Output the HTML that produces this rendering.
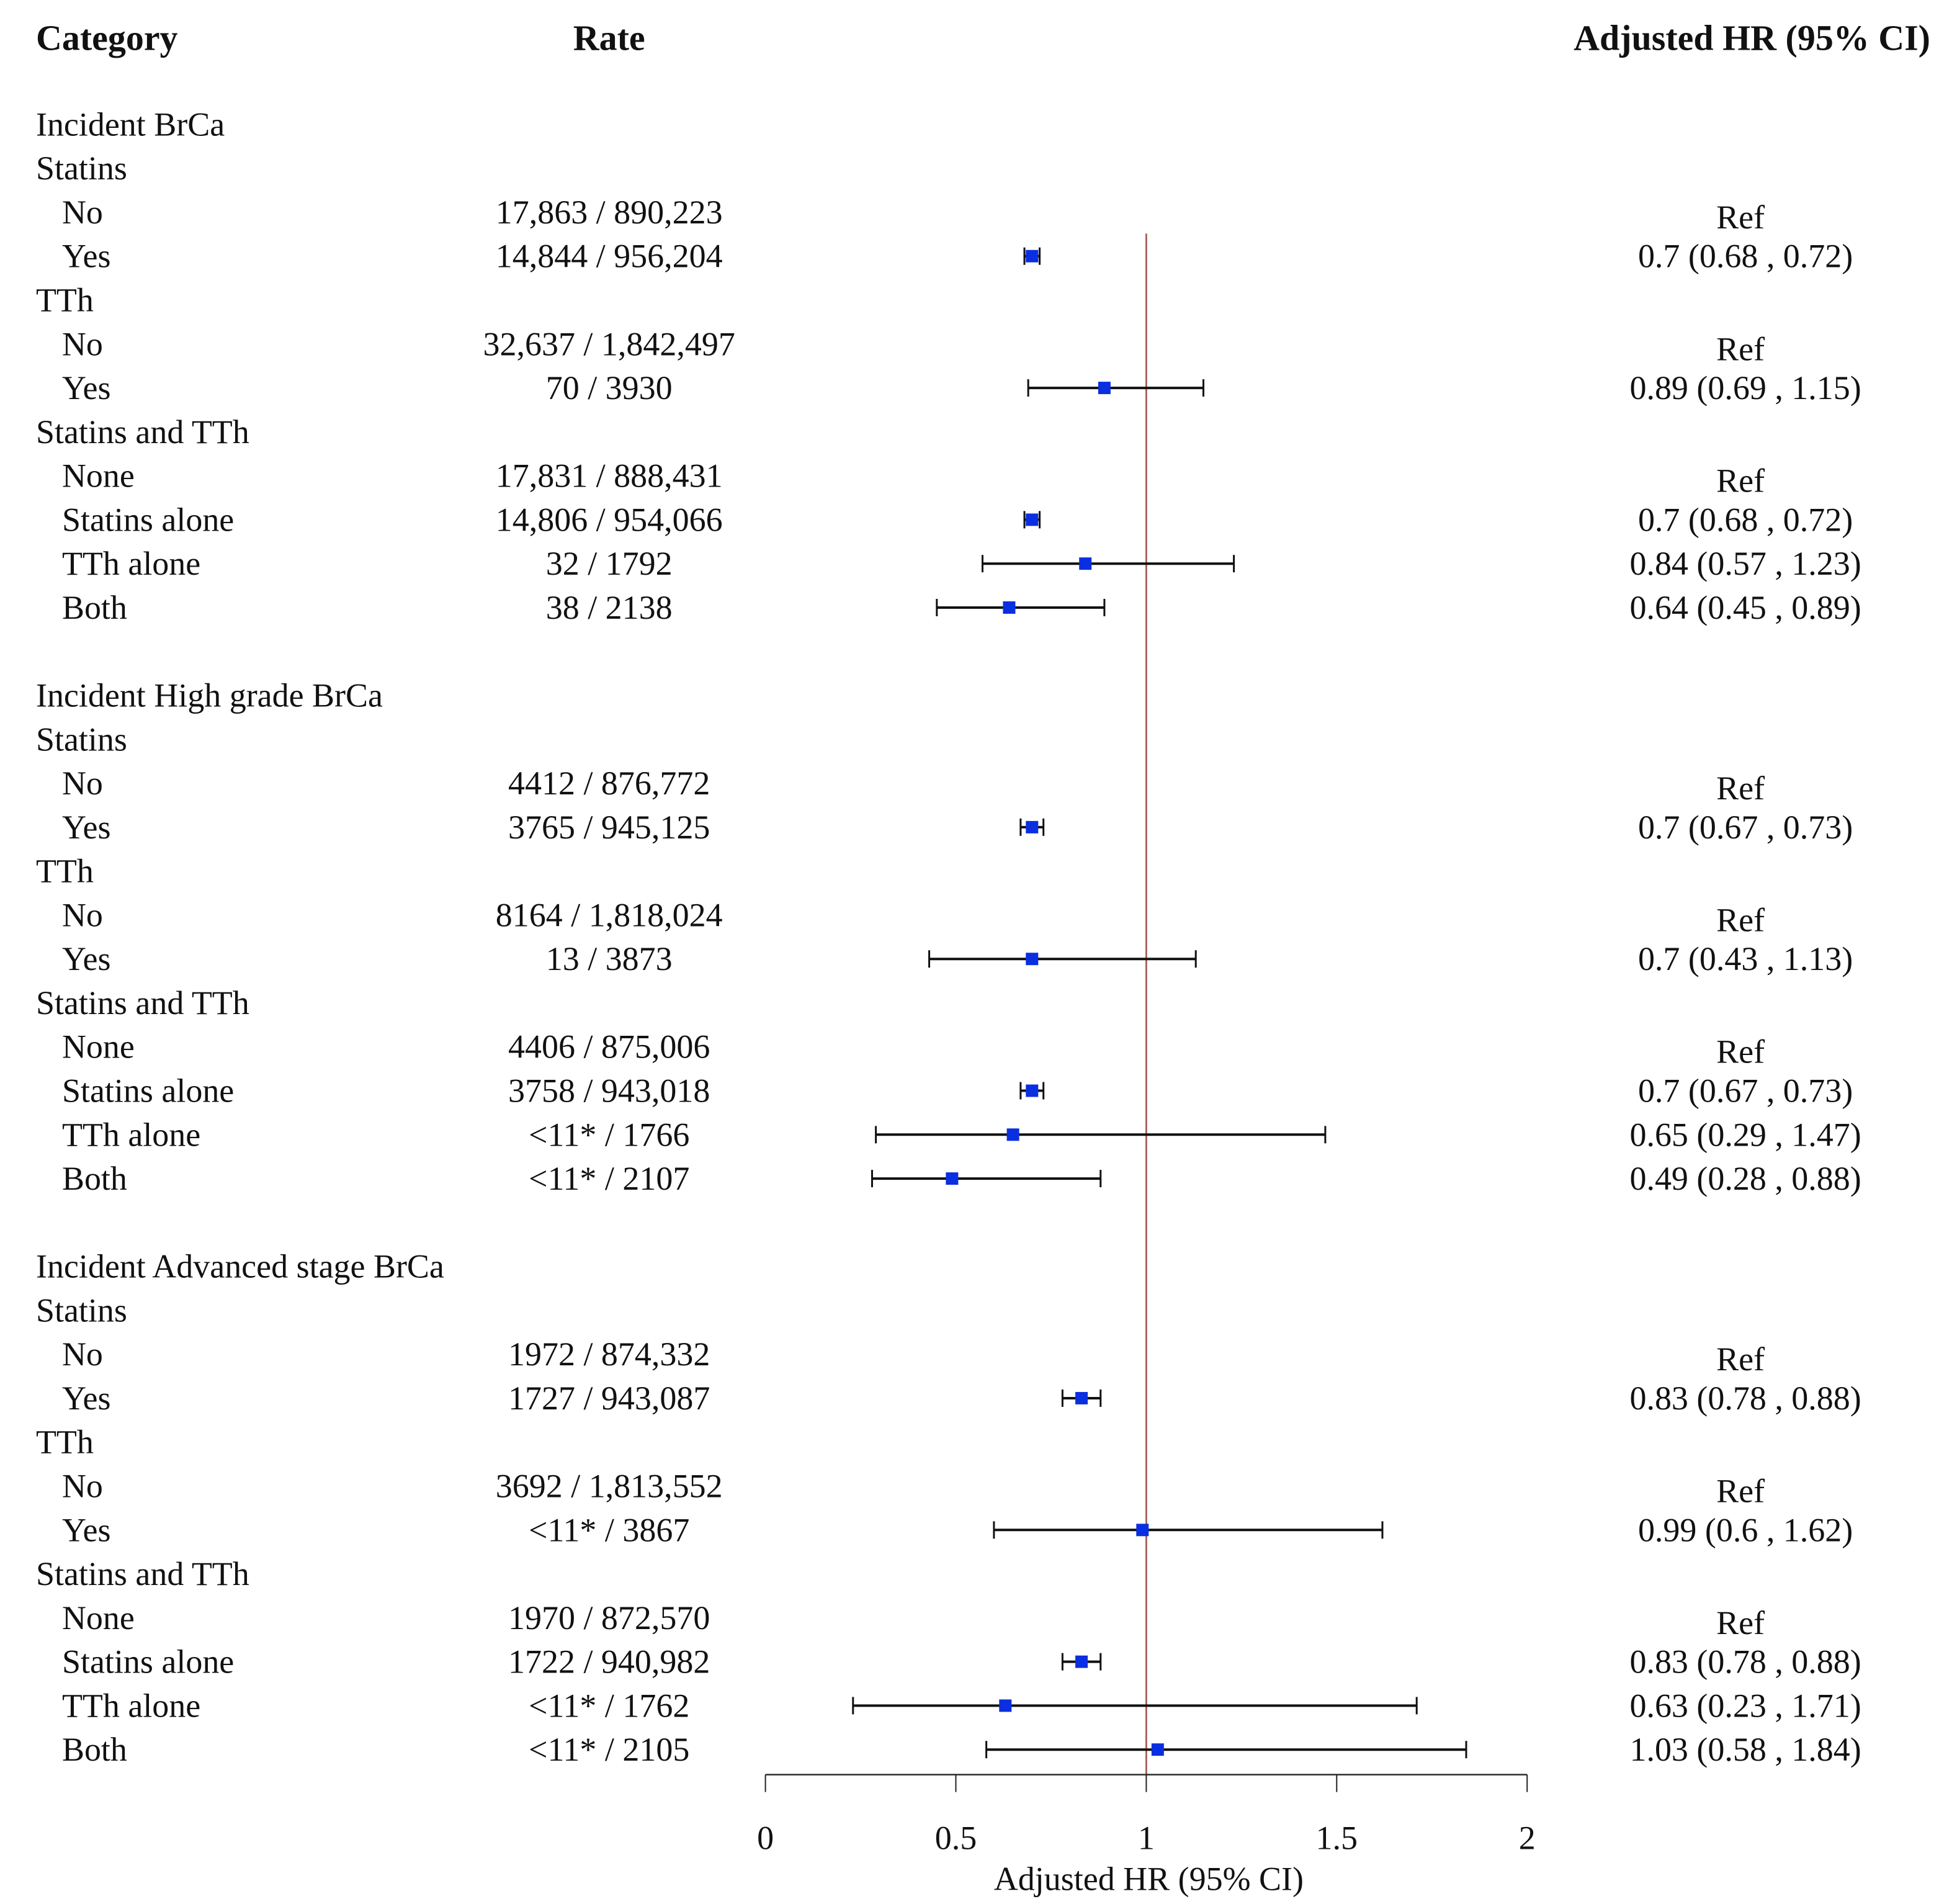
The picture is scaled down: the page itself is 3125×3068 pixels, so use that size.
<!DOCTYPE html>
<html><head><meta charset="utf-8">
<style>
html,body{margin:0;padding:0;background:#fff;}
svg{display:block;}
text{font-family:"Liberation Serif",serif;fill:#111;}
</style></head>
<body>
<svg id="chart" width="3125" height="3068" viewBox="0 0 1563 1534" xmlns="http://www.w3.org/2000/svg">
  <text x="29" y="40" font-size="29" font-weight="bold">Category</text>
  <text x="491" y="40" font-size="29" font-weight="bold" text-anchor="middle">Rate</text>
  <text x="1556" y="40" font-size="29" font-weight="bold" text-anchor="end">Adjusted HR (95% CI)</text>
  <g id="rows"></g>
  <g id="marks"></g>
  <g id="axis"></g>
  <text x="926" y="1523" font-size="27" text-anchor="middle">Adjusted HR (95% CI)</text>
</svg>
<script>
const labels = ["Incident BrCa","Statins","No","Yes","TTh","No","Yes","Statins and TTh","None","Statins alone","TTh alone","Both",null,
"Incident High grade BrCa","Statins","No","Yes","TTh","No","Yes","Statins and TTh","None","Statins alone","TTh alone","Both",null,
"Incident Advanced stage BrCa","Statins","No","Yes","TTh","No","Yes","Statins and TTh","None","Statins alone","TTh alone","Both"];
const indents = [0,0,1,1,0,1,1,0,1,1,1,1,0, 0,0,1,1,0,1,1,0,1,1,1,1,0, 0,0,1,1,0,1,1,0,1,1,1,1];
const rates = ["","","17,863 / 890,223","14,844 / 956,204","","32,637 / 1,842,497","70 / 3930","","17,831 / 888,431","14,806 / 954,066","32 / 1792","38 / 2138","",
"","","4412 / 876,772","3765 / 945,125","","8164 / 1,818,024","13 / 3873","","4406 / 875,006","3758 / 943,018","<11* / 1766","<11* / 2107","",
"","","1972 / 874,332","1727 / 943,087","","3692 / 1,813,552","<11* / 3867","","1970 / 872,570","1722 / 940,982","<11* / 1762","<11* / 2105"];
const estimates = [null,null,null,0.70,null,null,0.89,null,null,0.70,0.84,0.64,null,
null,null,null,0.70,null,null,0.70,null,null,0.70,0.65,0.49,null,
null,null,null,0.83,null,null,0.99,null,null,0.83,0.63,1.03];
const lowers = [null,null,null,0.68,null,null,0.69,null,null,0.68,0.57,0.45,null,
null,null,null,0.67,null,null,0.43,null,null,0.67,0.29,0.28,null,
null,null,null,0.78,null,null,0.60,null,null,0.78,0.23,0.58];
const uppers = [null,null,null,0.72,null,null,1.15,null,null,0.72,1.23,0.89,null,
null,null,null,0.73,null,null,1.13,null,null,0.73,1.47,0.88,null,
null,null,null,0.88,null,null,1.62,null,null,0.88,1.71,1.84];
const hrLabels = ["","","Ref","0.7 (0.68 , 0.72)","","Ref","0.89 (0.69 , 1.15)","","Ref","0.7 (0.68 , 0.72)","0.84 (0.57 , 1.23)","0.64 (0.45 , 0.89)","",
"","","Ref","0.7 (0.67 , 0.73)","","Ref","0.7 (0.43 , 1.13)","","Ref","0.7 (0.67 , 0.73)","0.65 (0.29 , 1.47)","0.49 (0.28 , 0.88)","",
"","","Ref","0.83 (0.78 , 0.88)","","Ref","0.99 (0.6 , 1.62)","","Ref","0.83 (0.78 , 0.88)","0.63 (0.23 , 1.71)","1.03 (0.58 , 1.84)"];
const ticks = [0,0.5,1,1.5,2];
const tickLabels = ["0","0.5","1","1.5","2"];

const NS="http://www.w3.org/2000/svg";
const xScale = v => 617 + (v-0)/(2-0)*(1231-617);
const yRow = i => 100 + i*35.4;
function mk(tag, attrs, parent, txt){
  const e=document.createElementNS(NS,tag);
  for(const k in attrs) e.setAttribute(k,attrs[k]);
  if(txt!==undefined) e.textContent=txt;
  parent.appendChild(e); return e;
}
const rowsG=document.getElementById('rows'), marksG=document.getElementById('marks'), axisG=document.getElementById('axis');
const ref=mk('line',{x1:xScale(1),x2:xScale(1),y1:188,y2:1430,stroke:'#a0524d','stroke-width':1.3},marksG);


labels.forEach((lab,i)=>{
  if(lab===null) return;
  const y=yRow(i);
  const t=mk('text',{x:indents[i]?50:29,y:y+9,'font-size':27},rowsG,lab);
  
  
  if(rates[i]){
    const r=mk('text',{x:491,y:y+9,'font-size':27,'text-anchor':'middle'},rowsG,rates[i]);
    
    
  }
  if(hrLabels[i]){
    const isRef=hrLabels[i]==='Ref';
    const h=mk('text',{x:isRef?1403:1407,y:y+9+(isRef?4:0),'font-size':27,'text-anchor':'middle'},rowsG,hrLabels[i]);
    
    
  }
  if(estimates[i]!==null){
    const g=mk('g',{},marksG);
    
    
    const x1=xScale(lowers[i]), x2=xScale(uppers[i]);
    mk('line',{x1:x1,x2:x2,y1:y,y2:y,stroke:'#111','stroke-width':2},g);
    mk('line',{x1:x1,x2:x1,y1:y-7,y2:y+7,stroke:'#111','stroke-width':1.5},g);
    mk('line',{x1:x2,x2:x2,y1:y-7,y2:y+7,stroke:'#111','stroke-width':1.5},g);
    const sq=mk('rect',{x:xScale(estimates[i])-5,y:y-5,width:10,height:10,fill:'#0a2fe0'},g);
    
    
  }
});
mk('line',{x1:xScale(0),x2:xScale(2),y1:1430,y2:1430,stroke:'#222','stroke-width':1.2},axisG);
ticks.forEach((v,k)=>{
  mk('line',{x1:xScale(v),x2:xScale(v),y1:1430,y2:1444,stroke:'#222','stroke-width':1},axisG);
  const tl=mk('text',{x:xScale(v),y:1490,'font-size':27,'text-anchor':'middle'},axisG,tickLabels[k]);
  
  
});
</script>
</body></html>
